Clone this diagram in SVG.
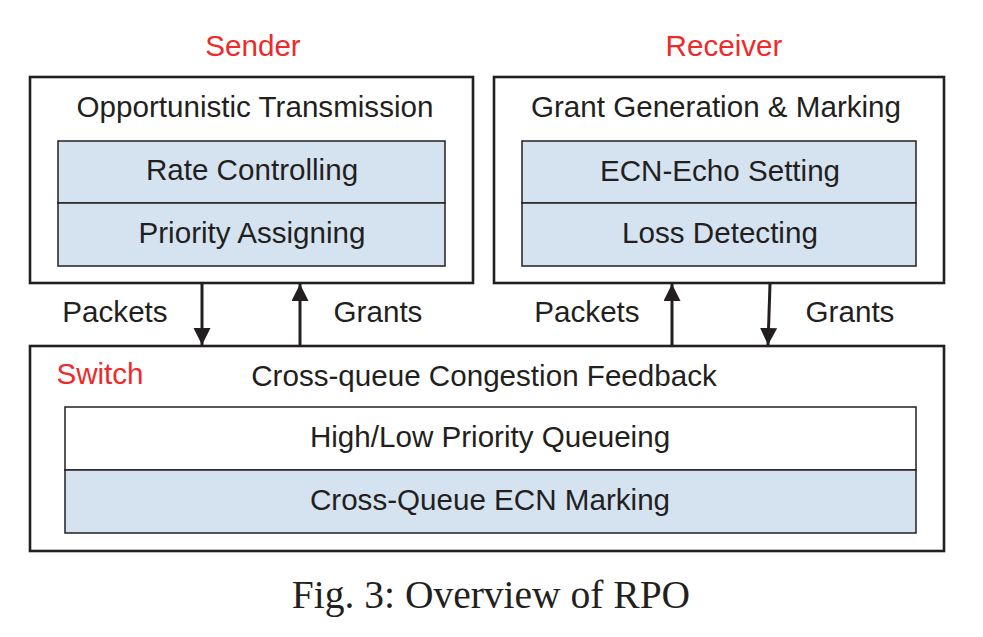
<svg xmlns="http://www.w3.org/2000/svg" width="983" height="637" viewBox="0 0 983 637">
<defs>
<marker id="ah" markerWidth="17" markerHeight="18" refX="17" refY="8.5" orient="auto" markerUnits="userSpaceOnUse">
<path d="M0,0 L17,8.5 L0,17 Z" fill="#231f20"/>
</marker>
<style>
.outer{fill:#fff;stroke:#231f20;stroke-width:2.6}
.inner{fill:#d5e3f0;stroke:#231f20;stroke-width:1.5}
.white{fill:#fff;stroke:#231f20;stroke-width:1.5}
.t{font-family:"Liberation Sans",Arial,sans-serif;font-size:29.6px;fill:#231f20;text-anchor:middle}
.red{font-family:"Liberation Sans",Arial,sans-serif;font-size:29.6px;fill:#ee2a2a;text-anchor:middle}
.cap{font-family:"Liberation Serif","Times New Roman",serif;font-size:39.5px;fill:#231f20;text-anchor:middle}
.conn{stroke:#231f20;stroke-width:3;fill:none}
</style>
</defs>
<rect width="983" height="637" fill="#fff"/>
<g id="sender">
<rect class="outer" x="30" y="77" width="443" height="206"/>
<text class="red" x="253" y="56">Sender</text>
<text class="t" x="255" y="117">Opportunistic Transmission</text>
<rect class="inner" x="58" y="141" width="387" height="62"/>
<text class="t" x="252" y="180">Rate Controlling</text>
<rect class="inner" x="58" y="203" width="387" height="63"/>
<text class="t" x="252" y="243">Priority Assigning</text>
</g>
<g id="receiver">
<rect class="outer" x="494" y="77" width="450" height="206"/>
<text class="red" x="724" y="56">Receiver</text>
<text class="t" x="716" y="117">Grant Generation &amp; Marking</text>
<rect class="inner" x="522" y="141" width="394" height="62"/>
<text class="t" x="720" y="181">ECN-Echo Setting</text>
<rect class="inner" x="522" y="203" width="394" height="63"/>
<text class="t" x="720" y="243">Loss Detecting</text>
</g>
<g id="switch">
<rect class="outer" x="30" y="346" width="914" height="205"/>
<text class="red" x="100" y="384">Switch</text>
<text class="t" x="484" y="386">Cross-queue Congestion Feedback</text>
<rect class="white" x="65" y="407" width="851" height="63"/>
<text class="t" x="490" y="447">High/Low Priority Queueing</text>
<rect class="inner" x="65" y="470" width="851" height="63"/>
<text class="t" x="490" y="510">Cross-Queue ECN Marking</text>
</g>
<g id="connectors">
<line class="conn" x1="202" y1="284" x2="202" y2="345" marker-end="url(#ah)"/>
<line class="conn" x1="300" y1="345" x2="300" y2="284" marker-end="url(#ah)"/>
<line class="conn" x1="672" y1="345" x2="672" y2="284" marker-end="url(#ah)"/>
<line class="conn" x1="770" y1="284" x2="768" y2="345" marker-end="url(#ah)"/>
<text class="t" x="115" y="322">Packets</text>
<text class="t" x="378" y="322">Grants</text>
<text class="t" x="587" y="322">Packets</text>
<text class="t" x="850" y="322">Grants</text>
</g>
<text class="cap" x="491" y="608">Fig. 3: Overview of RPO</text>
</svg>
